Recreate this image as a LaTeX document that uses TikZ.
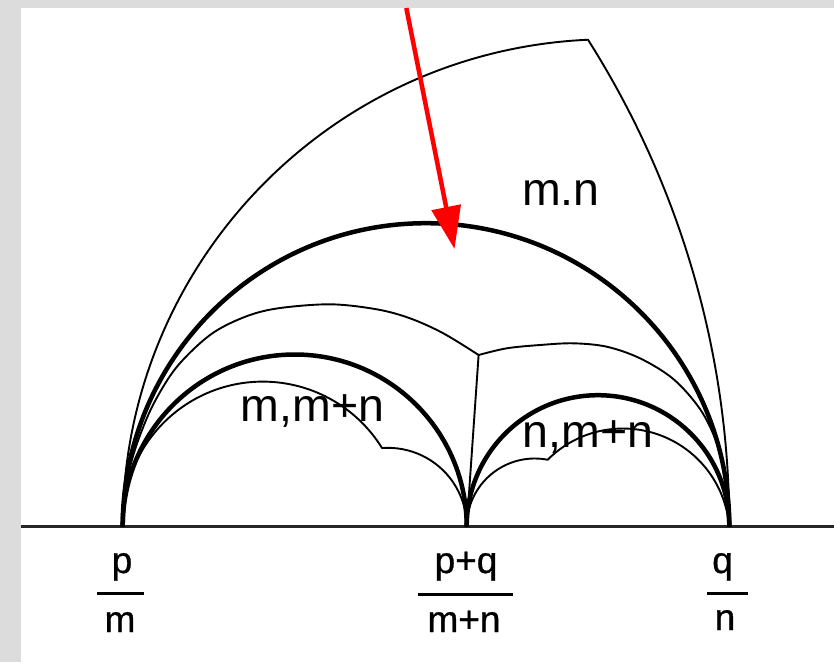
\documentclass[tikz,border=0pt]{standalone}
\usepackage{fontspec}
\setmainfont{Liberation Sans}
\newfontfamily\scanfont[FakeBold=0.8]{Liberation Sans}
\usetikzlibrary{arrows.meta}
\definecolor{framegray}{HTML}{DCDCDC}
\definecolor{arrowred}{HTML}{FF0000}
\begin{document}
\begin{tikzpicture}[x=1pt,y=1pt,yscale=-1,
  thinc/.style={line width=1.9pt, line join=round},
  thickc/.style={line width=4.5pt, line join=round},
  axisline/.style={line width=2.2pt, black!85},
  lab/.style={font=\fontsize{46.5}{50}\selectfont, inner sep=0pt, anchor=base},
  fr/.style={font=\scanfont\fontsize{37}{40}\selectfont, inner sep=0pt, anchor=base},
  fbar/.style={fill=black, inner sep=0pt, minimum height=3pt},
  redarrow/.style={arrowred, line width=4.5pt, -{Triangle[length=42.6pt,width=29pt]}}]
\useasboundingbox (0,0) rectangle (834,662);
\fill[framegray] (0,0) rectangle (834,662);
\fill[white] (20.7,8) rectangle (834,662);

% feet and corners
\coordinate (A) at (122.7,526.5);
\coordinate (M) at (466.7,526.5);
\coordinate (B) at (729.3,526.5);
\coordinate (K) at (478.6,355);
\coordinate (L0) at (20.7,526.5);
\coordinate (R0) at (834,526.5);

% base line
\draw[axisline] (L0) -- (R0);

% thick geodesics
\draw[thickc] (A) arc[start angle=180, end angle=360, radius=303.3];
\draw[thickc] (A) arc[start angle=180, end angle=360, radius=172];
\draw[thickc] (M) arc[start angle=180, end angle=360, radius=131.3];

% outer boundary
\draw[thinc] (A) arc[start angle=180, end angle=267.41, radius=487.3]
               arc[start angle=-32.37, end angle=0, radius=909.27];

% lower left boundary
\draw[thinc] (A) arc[start angle=178.08, end angle=328.26, radius=140.2]
               arc[start angle=-94.36, end angle=0, radius=78.7];

% lower right boundary
\draw[thinc] (M) arc[start angle=180, end angle=280.98, radius=68]
               arc[start angle=-135.03, end angle=-4.57, radius=106.5];

% middle boundary
\draw[thinc] plot[smooth, tension=0.55] coordinates {(A) (124.8,497) (129.5,469) (139,438) (154,403) (176.7,367) (210,335) (243.3,317.5) (276.7,308.5) (330,304.3) (376.7,309.3) (410,318.3) (443.3,333.3) (K)};
\draw[thinc] plot[smooth, tension=0.55] coordinates {(K) (506.7,348.3) (540,345) (573.3,343.3) (606.7,346.7) (640,358.3) (673.3,379) (700,409) (716,441) (724.6,475) (728.3,503) (B)};
\draw[thinc] (K) -- (M);

% region labels
\node[lab] (lmn) at (561,205) {m.n};
\node[lab] (lmmn) at (312.5,421) {m,m+n};
\node[lab] (lnmn) at (588,447) {n,m+n};

% fractions
\node[fr] (pnum) at (122,573) {p};
\node[fbar, minimum width=47.3pt] (pbar) at (120.3,593.5) {};
\node[fr] (pden) at (120,632) {m};
\node[fr] (mnum) at (466,573) {p+q};
\node[fbar, minimum width=95pt] (mbar) at (465.5,594) {};
\node[fr] (mden) at (464,632) {m+n};
\node[fr] (qnum) at (722.5,573) {q};
\node[fbar, minimum width=41pt] (qbar) at (727.5,593.5) {};
\node[fr] (qden) at (725,630) {n};

% red arrow
\coordinate (arrowstart) at (406.3,8);
\coordinate (arrowtip) at (454.5,249);
\draw[redarrow] (arrowstart) -- (arrowtip);
\end{tikzpicture}
\end{document}
